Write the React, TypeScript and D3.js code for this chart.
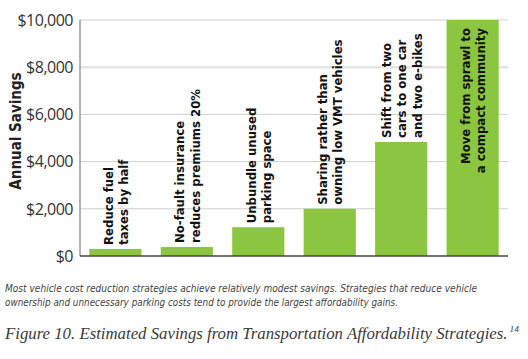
import React from 'react';
import * as d3 from 'd3';

const strategies = [
  ['Reduce fuel', 'taxes by half'],
  ['No-fault insurance', 'reduces premiums 20%'],
  ['Unbundle unused', 'parking space'],
  ['Sharing rather than', 'owning low VMT vehicles'],
  ['Shift from two', 'cars to one car', 'and two e-bikes'],
  ['Move from sprawl to', 'a compact community'],
];
const savings = [300, 380, 1220, 2000, 4830, 10000];
const yTicks = [0, 2000, 4000, 6000, 8000, 10000];
const captionLines = [
  'Most vehicle cost reduction strategies achieve relatively modest savings. Strategies that reduce vehicle',
  'ownership and unnecessary parking costs tend to provide the largest affordability gains.',
];
const captionWidths = [472, 393];
const figureTitle = 'Figure 10. Estimated Savings from Transportation Affordability Strategies.';
const footnote = '14';

const W = 528, H = 359;
const left = 80, right = 508, top = 20, bottom = 256;
const narrow = '"Liberation Sans Narrow", "DejaVu Sans Condensed", "Open Sans", sans-serif';

const App = () => {
  const x = d3.scaleBand<number>()
    .domain(d3.range(savings.length))
    .range([left, right])
    .paddingInner(0.27)
    .paddingOuter(0.13);

  const y = d3.scaleLinear().domain([0, 10000]).range([bottom, top]);
  const fmt = (v: number) => '$' + d3.format(',')(v);

  return (
    <svg width={W} height={H} style={{ position: 'absolute', left: 0, top: 0, background: '#fff' }}>
      {/* gridlines */}
      {yTicks.filter(t => t > 0).map(t => (
        <line key={t} x1={left} x2={right} y1={y(t)} y2={y(t)}
          stroke={t === 8000 ? '#e4e4e4' : '#cfcfcf'} strokeWidth={t === 8000 ? 2.5 : 1} />
      ))}

      {/* bars */}
      {savings.map((v, i) => (
        <rect key={i} x={x(i)} y={y(v)} width={x.bandwidth()} height={y(0) - y(v)} fill="#8cc540" />
      ))}

      {/* axes */}
      <line x1={left} x2={left} y1={top} y2={bottom} stroke="#9a9a9a" strokeWidth={1.5} />
      <line x1={left} x2={right} y1={bottom} y2={bottom} stroke="#444" strokeWidth={1.5} />

      {yTicks.map(t => (
        <text key={t} x={73} y={y(t)} dy="0.36em" textAnchor="end"
          fontFamily='"Open Sans", sans-serif' fontSize={16} fill="#333" letterSpacing={-0.5}>
          {fmt(t)}
        </text>
      ))}

      <text transform={`translate(21,131) rotate(-90)`} textAnchor="middle"
        fontFamily={narrow} fontWeight="bold" fontSize={15} fill="#222">
        Annual Savings
      </text>

      {/* bar labels */}
      {strategies.map((lines, i) => {
        const cx = x(i)! + x.bandwidth() / 2;
        const inside = savings[i] > 8000;
        const ly = inside ? y(savings[i]) + 8 : y(savings[i]) - 4;
        const lh = 15.5;
        const x0 = cx - ((lines.length - 1) * lh) / 2;
        return (
          <g key={i}>
            {lines.map((s, j) => (
              <text key={j} transform={`translate(${x0 + j * lh + 5},${ly}) rotate(-90)`}
                textAnchor={inside ? 'end' : 'start'}
                fontFamily={narrow} fontWeight="bold" fontSize={13} fill="#111">
                {s}
              </text>
            ))}
          </g>
        );
      })}

      {/* caption */}
      {captionLines.map((s, i) => (
        <text key={i} x={5} y={292 + i * 13.5} fontFamily={narrow} fontStyle="italic"
          fontSize={11} fill="#444" textLength={captionWidths[i]} lengthAdjust="spacingAndGlyphs">
          {s}
        </text>
      ))}

      <text x={5} y={339} fontFamily='"Liberation Serif", serif' fontStyle="italic" fontSize={16} fill="#3a3a3a"
        textLength={514} lengthAdjust="spacingAndGlyphs">
        {figureTitle}
        <tspan dx={2} dy={-7} fontSize={9}>{footnote}</tspan>
      </text>
    </svg>
  );
};

export default App;
